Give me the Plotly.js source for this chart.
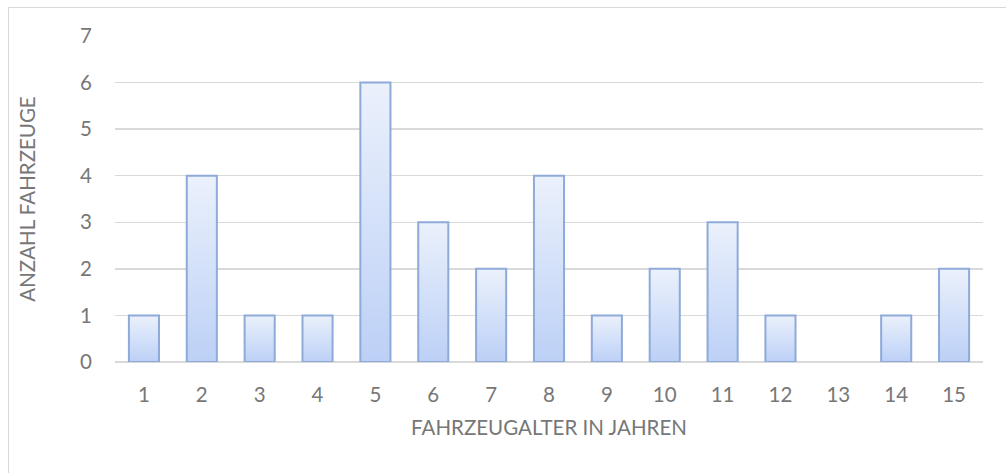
<!DOCTYPE html>
<html><head><meta charset="utf-8">
<script src="https://cdn.plot.ly/plotly-3.0.1.min.js"></script>
<style>
html,body{margin:0;padding:0;background:#fff;}
#wrap{position:relative;width:1006px;height:473px;overflow:hidden;}
#chart{position:absolute;left:0;top:0;width:1006px;height:473px;}
#frame{position:absolute;left:8px;top:7px;width:1100px;height:600px;border:1px solid #d9d9d9;pointer-events:none;}
</style>
</head><body>
<div id="wrap"><div id="chart"></div><div id="frame"></div></div>
<script>
const ages = [1,2,3,4,5,6,7,8,9,10,11,12,13,14,15];
const counts = [1,4,1,1,6,3,2,4,1,2,3,1,0,1,2];
const tickLabels = ages.map(String);
const xTitle = "FAHRZEUGALTER IN JAHREN";
const yTitle = "ANZAHL FAHRZEUGE";

const halfW = 0.26;
const FONT = "Lato, 'Open Sans', sans-serif";
const FS = 20.5;
const COL = '#777777';
const traces = [];
ages.forEach((a, i) => {
  const v = counts[i];
  if (v <= 0) return;
  traces.push({
    type: 'scatter', mode: 'lines',
    x: [a - halfW, a - halfW, a + halfW, a + halfW, a - halfW],
    y: [0, v, v, 0, 0],
    fill: 'toself',
    fillgradient: {type: 'vertical', start: 0, stop: v,
      colorscale: [[0, '#bcd0f6'], [1, '#ebf1fc']]},
    line: {color: '#8eaad8', width: 2},
    hoverinfo: 'x+y', showlegend: false
  });
});

const layout = {
  width: 1006, height: 473,
  margin: {l: 115, r: 22.5, t: 36, b: 111},
  paper_bgcolor: '#fff', plot_bgcolor: '#fff',
  font: {family: FONT, color: COL, size: FS},
  showlegend: false,
  xaxis: {
    range: [0.5, 15.5], tickvals: ages, ticktext: tickLabels,
    showgrid: false, zeroline: false, showline: false, ticks: '',
    ticklabelstandoff: 18,
    tickfont: {family: FONT, size: FS, color: COL},
    title: {text: xTitle, standoff: 16, font: {family: FONT, size: FS, color: COL}}
  },
  yaxis: {
    range: [0, 7], dtick: 1, tick0: 0,
    showgrid: true, gridcolor: '#d9d9d9', gridwidth: 1.5,
    zeroline: true, zerolinecolor: '#d9d9d9', zerolinewidth: 1.5,
    showline: false, ticks: '',
    ticklabelstandoff: 22,
    tickfont: {family: FONT, size: FS, color: COL},
    title: {text: yTitle, standoff: 38, font: {family: FONT, size: FS, color: COL}}
  }
};
Plotly.newPlot('chart', traces, layout, {displayModeBar: false, staticPlot: true});
</script>
</body></html>
